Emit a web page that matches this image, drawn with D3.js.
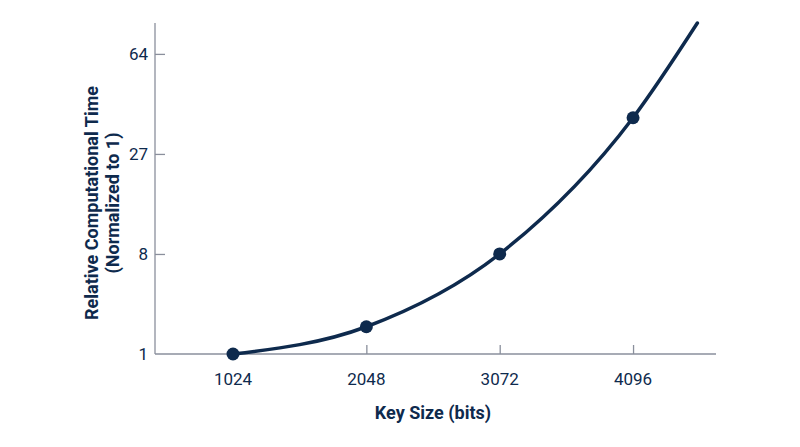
<!DOCTYPE html>
<html>
<head>
<meta charset="utf-8">
<script src="https://cdn.jsdelivr.net/npm/d3@7"></script>
<style>
  body { margin: 0; background: #fff; }
  svg { display: block; font-family: Roboto, "Noto Sans", sans-serif; }
</style>
</head>
<body>
<svg width="800" height="447"></svg>
<script>
// key sizes and relative time
const keySizes = [1024, 2048, 3072, 4096];
const relTime = [1, 2.06, 8, 38];
// the curve carries on past the last dot up to the top
const curveEnd = { key: 4590, time: 80 };
const yTicks = [1, 8, 27, 64];

const navy = '#0e2a4d';
const grey = '#8a8f9c';

const svg = d3.select('svg');

// x: linear on key size, y: cube-root scale
const x = d3.scaleLinear().domain([425, 4733]).range([155, 716]);
const y = d3.scalePow().exponent(1 / 3).domain([1, 80]).range([354, 23]);

// axes
const xAxis = svg.append('g').attr('transform', 'translate(0,354)')
  .call(d3.axisTop(x).tickValues(keySizes).tickSize(9).tickFormat(''));
xAxis.select('.domain').attr('d', 'M155,0H716');
xAxis.selectAll('line, path').attr('stroke', grey).attr('stroke-width', 1.3);
xAxis.selectAll('.tick').filter(d => d === 1024).select('line').remove();

const yAxis = svg.append('g').attr('transform', 'translate(155,0)')
  .call(d3.axisRight(y).tickValues(yTicks).tickSize(10).tickFormat(''));
yAxis.select('.domain').attr('d', 'M0,23V354');
yAxis.selectAll('line, path').attr('stroke', grey).attr('stroke-width', 1.3);
yAxis.selectAll('.tick').filter(d => d === 1).select('line').remove();

// tick labels
svg.append('g').selectAll('text').data(keySizes).join('text')
  .attr('x', d => x(d)).attr('y', 384.5)
  .attr('text-anchor', 'middle')
  .attr('font-size', 17).attr('fill', navy)
  .text(d => d);

svg.append('g').selectAll('text').data(yTicks).join('text')
  .attr('x', 148).attr('y', d => y(d)).attr('dy', '0.35em')
  .attr('text-anchor', 'end')
  .attr('font-size', 17).attr('fill', navy)
  .text(d => d);

// titles
svg.append('text')
  .attr('x', 433).attr('y', 419)
  .attr('text-anchor', 'middle')
  .attr('font-size', 18).attr('font-weight', 'bold').attr('fill', navy)
  .text('Key Size (bits)');

const yTitle = svg.append('text')
  .attr('transform', 'translate(98,203) rotate(-90)')
  .attr('text-anchor', 'middle')
  .attr('font-size', 18).attr('font-weight', 'bold').attr('fill', navy);
yTitle.append('tspan').attr('x', 0).attr('y', 0).text('Relative Computational Time');
yTitle.append('tspan').attr('x', 0).attr('y', 21).text('(Normalized to 1)');

// line through the dots
const linePts = keySizes.map((k, i) => [k, relTime[i]]).concat([[curveEnd.key, curveEnd.time]]);
const line = d3.line()
  .x(d => x(d[0]))
  .y(d => y(d[1]))
  .curve(d3.curveMonotoneX);

svg.append('path')
  .datum(linePts)
  .attr('d', line)
  .attr('fill', 'none')
  .attr('stroke', navy)
  .attr('stroke-width', 3.5)
  .attr('stroke-linecap', 'round');

svg.append('g').selectAll('circle').data(keySizes).join('circle')
  .attr('cx', d => x(d))
  .attr('cy', (d, i) => y(relTime[i]))
  .attr('r', 6.5)
  .attr('fill', navy);
</script>
</body>
</html>
